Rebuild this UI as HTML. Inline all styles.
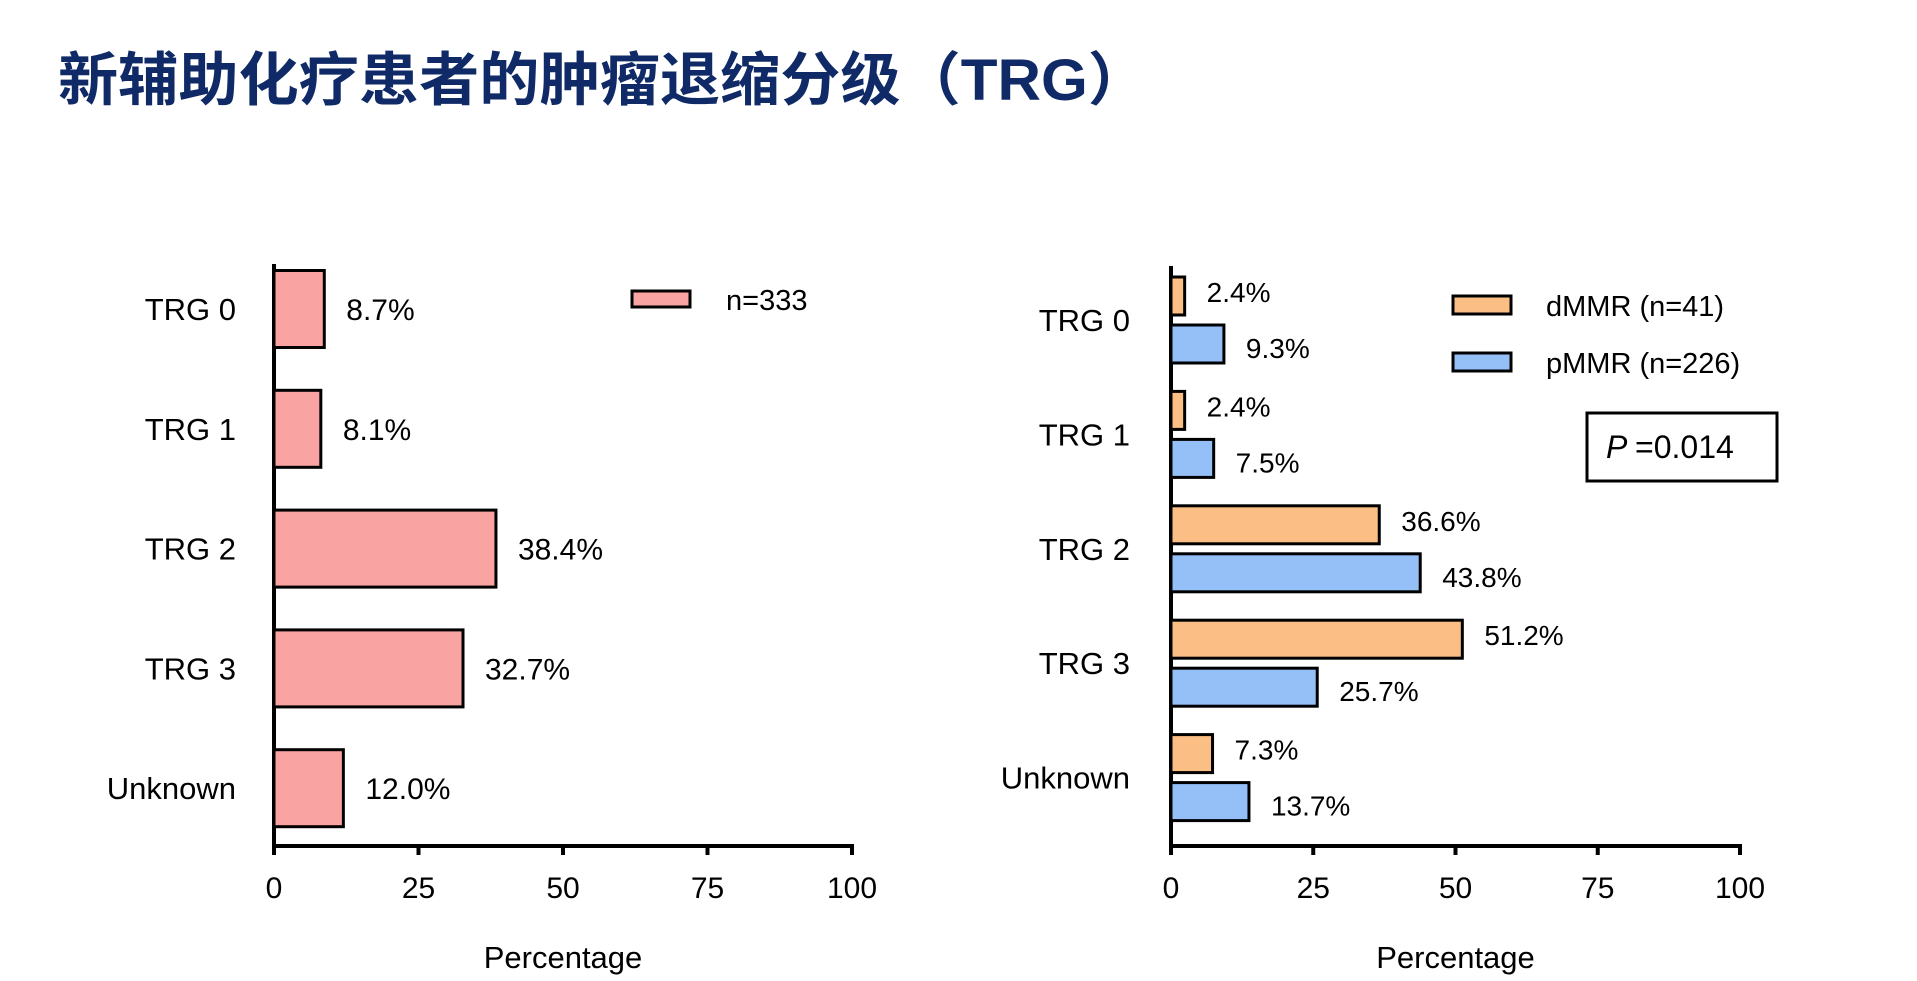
<!DOCTYPE html>
<html><head><meta charset="utf-8"><style>
html,body{margin:0;padding:0;background:#fff;}
svg{display:block;font-family:"Liberation Sans","Noto Sans CJK SC",sans-serif;}
</style></head><body>
<svg id="chart" width="1917" height="981" viewBox="0 0 1917 981" xmlns="http://www.w3.org/2000/svg">
<text x="58" y="100" font-size="58" font-weight="bold" fill="#0f2a66" textLength="1090" lengthAdjust="spacingAndGlyphs" font-family="'Liberation Sans','Noto Sans CJK SC',sans-serif">新辅助化疗患者的肿瘤退缩分级（TRG）</text>
<g id="left"></g>
<g id="right"></g>
</svg>
<script>
const categories = ["TRG 0","TRG 1","TRG 2","TRG 3","Unknown"];
const allValues = [8.7, 8.1, 38.4, 32.7, 12.0];
const dmmrValues = [2.4, 2.4, 36.6, 51.2, 7.3];
const pmmrValues = [9.3, 7.5, 43.8, 25.7, 13.7];
const xTicks = [0, 25, 50, 75, 100];
const legendAll = "n=333";
const legendD = "dMMR (n=41)";
const legendP = "pMMR (n=226)";
const pValueText = "=0.014";

const NS = "http://www.w3.org/2000/svg";
function mk(parent, tag, attrs, text) {
  const e = document.createElementNS(NS, tag);
  for (const k in attrs) e.setAttribute(k, attrs[k]);
  if (text !== undefined) e.textContent = text;
  parent.appendChild(e);
  return e;
}

function axes(g, x0, x100, yAxis, yTop, labelCenter) {
  const xs = v => x0 + (x100 - x0) * v / 100;
  const yl = mk(g, "line", {x1: x0, y1: yTop, x2: x0, y2: yAxis + 2, stroke: "#000", "stroke-width": 4});
  
  
  const xl = mk(g, "line", {x1: x0 - 2, y1: yAxis, x2: x100 + 2, y2: yAxis, stroke: "#000", "stroke-width": 4});
  
  
  xTicks.forEach(t => {
    const tk = mk(g, "line", {x1: xs(t), y1: yAxis, x2: xs(t), y2: yAxis + 9, stroke: "#000", "stroke-width": 4});
    
    
    const tl = mk(g, "text", {x: xs(t), y: yAxis + 52, "font-size": 30, "text-anchor": "middle"}, String(t));
    
    
  });
  const at = mk(g, "text", {x: (x0 + x100) / 2, y: 968, "font-size": 31, "text-anchor": "middle"}, "Percentage");
  
  
  return xs;
}

// Left chart
(function(){
  const g = document.getElementById("left");
  const xs = axes(g, 274, 852, 846, 264);
  const c0 = 309, step = 119.8, bh = 77;
  categories.forEach((c, i) => {
    const cy = c0 + step * i;
    const lab = mk(g, "text", {x: 236, y: cy + 11, "font-size": 31, "text-anchor": "end"}, c);
    
    
    const v = allValues[i];
    const r = mk(g, "rect", {x: xs(0), y: cy - bh / 2, width: xs(v) - xs(0), height: bh, fill: "#f9a3a3", stroke: "#000", "stroke-width": 3});
    
    
    const t = mk(g, "text", {x: xs(v) + 22, y: cy + 11, "font-size": 30}, v.toFixed(1) + "%");
    
    
  });
  const lb = mk(g, "rect", {x: 632, y: 291, width: 58, height: 16, fill: "#f9a3a3", stroke: "#000", "stroke-width": 3});
  
  
  const lt = mk(g, "text", {x: 726, y: 310, "font-size": 29}, legendAll);
  
  
})();

// Right chart
(function(){
  const g = document.getElementById("right");
  const xs = axes(g, 1171, 1740, 846, 266);
  const c0 = 320, step = 114.4, bh = 38, gap = 10;
  categories.forEach((c, i) => {
    const cy = c0 + step * i;
    const lab = mk(g, "text", {x: 1130, y: cy + 11, "font-size": 31, "text-anchor": "end"}, c);
    
    
    const d = dmmrValues[i], p = pmmrValues[i];
    const rd = mk(g, "rect", {x: xs(0), y: cy - gap / 2 - bh, width: xs(d) - xs(0), height: bh, fill: "#fbbf86", stroke: "#000", "stroke-width": 3});
    
    
    const td = mk(g, "text", {x: xs(d) + 22, y: cy - gap / 2 - bh / 2 + 6, "font-size": 28}, d.toFixed(1) + "%");
    
    
    const rp = mk(g, "rect", {x: xs(0), y: cy + gap / 2, width: xs(p) - xs(0), height: bh, fill: "#94c0f7", stroke: "#000", "stroke-width": 3});
    
    
    const tp = mk(g, "text", {x: xs(p) + 22, y: cy + gap / 2 + bh / 2 + 14, "font-size": 28}, p.toFixed(1) + "%");
    
    
  });
  const s1 = mk(g, "rect", {x: 1453, y: 296, width: 58, height: 18, fill: "#fbbf86", stroke: "#000", "stroke-width": 3});
  
  
  const t1 = mk(g, "text", {x: 1546, y: 316, "font-size": 29}, legendD);
  
  
  const s2 = mk(g, "rect", {x: 1453, y: 353, width: 58, height: 18, fill: "#94c0f7", stroke: "#000", "stroke-width": 3});
  
  
  const t2 = mk(g, "text", {x: 1546, y: 373, "font-size": 29}, legendP);
  
  
  const pb = mk(g, "rect", {x: 1587, y: 413, width: 190, height: 68, fill: "#fff", stroke: "#000", "stroke-width": 3});
  
  
  const pt = mk(g, "text", {x: 1606, y: 458, "font-size": 32});
  
  
  mk(pt, "tspan", {"font-style": "italic"}, "P ");
  mk(pt, "tspan", {}, pValueText);
})();
</script>
</body></html>
